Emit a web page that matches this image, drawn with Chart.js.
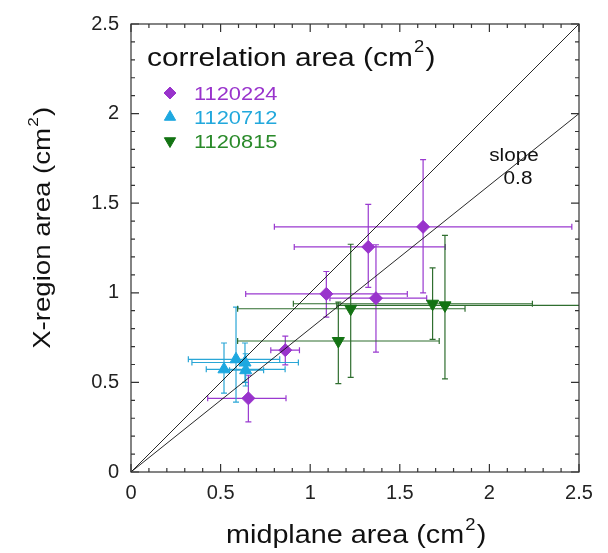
<!DOCTYPE html>
<html>
<head>
<meta charset="utf-8">
<script src="https://cdn.jsdelivr.net/npm/chart.js@4.4.1/dist/chart.umd.min.js"></script>
<style>
  body { margin: 0; background: #fff; }
  #wrap { width: 608px; height: 553px; }
</style>
</head>
<body>
<div id="wrap"><canvas id="corrChart" width="608" height="553"></canvas></div>
<script>
// series names
const seriesNames = ['1120224', '1120712', '1120815'];

// 1120224 (purple diamonds)
const shotAX = [1.63, 1.324, 1.09, 1.367, 0.861, 0.655];
const shotAY = [1.368, 1.256, 0.994, 0.970, 0.680, 0.411];
const shotAXLo = [0.80, 0.911, 0.64, 1.11, 0.78, 0.428];
const shotAXHi = [2.46, 1.754, 1.542, 1.65, 0.94, 0.865];
const shotAYLo = [1.00, 1.03, 0.864, 0.669, 0.598, 0.28];
const shotAYHi = [1.743, 1.494, 1.119, 1.268, 0.758, 0.54];

// 1120712 (cyan triangles)
const shotBX = [0.586, 0.636, 0.519, 0.64];
const shotBY = [0.629, 0.611, 0.573, 0.568];
const shotBXLo = [0.32, 0.34, 0.42, 0.55];
const shotBXHi = [0.83, 0.934, 0.86, 0.74];
const shotBYLo = [0.39, 0.50, 0.44, 0.48];
const shotBYHi = [0.92, 0.72, 0.72, 0.66];

// 1120815 (green down triangles)
const shotCX = [1.157, 1.226, 1.683, 1.752];
const shotCY = [0.731, 0.911, 0.939, 0.93];
const shotCXLo = [0.595, 0.595, 0.906, 1.148];
const shotCXHi = [1.72, 1.864, 2.24, 2.7];
const shotCYLo = [0.493, 0.528, 0.74, 0.52];
const shotCYHi = [0.948, 1.271, 1.139, 1.32];

// reference lines: y = x and y = 0.8 x
const lineX = [0, 2.5];
const slopes = [1, 0.8];

const axisMin = 0, axisMax = 2.5, majorStep = 0.5;

const colA = '#9933cc', colB = '#1ea8e0', colC = '#137313';
const barA = '#9a3ad0', barB = '#2aa6d6', barC = '#2f6e2f';

function pts(xs, ys, xlo, xhi, ylo, yhi) {
  return xs.map((x, i) => ({ x: x, y: ys[i], xMin: xlo[i], xMax: xhi[i], yMin: ylo[i], yMax: yhi[i] }));
}

const STRETCH = 1.15;
const FONT = '"Liberation Sans", Arial, Helvetica, sans-serif';

// draws text with a "2" superscript before the closing bracket
function supText(ctx, pre, sup, post, x, y, size, color, align) {
  ctx.save();
  ctx.fillStyle = color;
  ctx.textBaseline = 'alphabetic';
  ctx.textAlign = 'left';
  ctx.font = size + 'px ' + FONT;
  const w1 = ctx.measureText(pre).width;
  const w3 = ctx.measureText(post).width;
  ctx.font = Math.round(size * 0.62) + 'px ' + FONT;
  const w2 = ctx.measureText(sup).width;
  const total = (w1 + w2 + w3) * STRETCH;
  let sx = x;
  if (align === 'center') sx = x - total / 2;
  ctx.translate(sx, y);
  ctx.scale(STRETCH, 1);
  ctx.font = size + 'px ' + FONT;
  ctx.fillText(pre, 0, 0);
  ctx.font = Math.round(size * 0.62) + 'px ' + FONT;
  ctx.fillText(sup, w1 + 1, -size * 0.52);
  ctx.font = size + 'px ' + FONT;
  ctx.fillText(post, w1 + w2 + 2, 0);
  ctx.restore();
}

function plainText(ctx, txt, x, y, size, color, align) {
  ctx.save();
  ctx.fillStyle = color;
  ctx.font = size + 'px ' + FONT;
  ctx.textBaseline = 'alphabetic';
  ctx.textAlign = 'left';
  const w = ctx.measureText(txt).width * STRETCH;
  let sx = x;
  if (align === 'center') sx = x - w / 2;
  ctx.translate(sx, y);
  ctx.scale(STRETCH, 1);
  ctx.fillText(txt, 0, 0);
  ctx.restore();
}

const errorBars = {
  id: 'errorBars',
  beforeDatasetsDraw(chart) {
    const { ctx, scales: { x, y }, chartArea } = chart;
    ctx.save();
    ctx.beginPath();
    ctx.rect(chartArea.left, chartArea.top, chartArea.right - chartArea.left, chartArea.bottom - chartArea.top);
    ctx.clip();
    chart.data.datasets.forEach(ds => {
      if (!ds.barColor) return;
      ctx.strokeStyle = ds.barColor;
      ctx.lineWidth = 1.2;
      const cap = 3;
      ds.data.forEach(p => {
        const px = x.getPixelForValue(p.x), py = y.getPixelForValue(p.y);
        const x0 = x.getPixelForValue(p.xMin), x1 = x.getPixelForValue(p.xMax);
        const y0 = y.getPixelForValue(p.yMin), y1 = y.getPixelForValue(p.yMax);
        ctx.beginPath();
        ctx.moveTo(x0, py); ctx.lineTo(x1, py);
        ctx.moveTo(x0, py - cap); ctx.lineTo(x0, py + cap);
        ctx.moveTo(x1, py - cap); ctx.lineTo(x1, py + cap);
        ctx.moveTo(px, y0); ctx.lineTo(px, y1);
        ctx.moveTo(px - cap, y0); ctx.lineTo(px + cap, y0);
        ctx.moveTo(px - cap, y1); ctx.lineTo(px + cap, y1);
        ctx.stroke();
      });
    });
    ctx.restore();
  },
  afterDraw(chart) {
    const { ctx, scales: { x, y }, chartArea: a } = chart;
    ctx.save();
    // frame
    ctx.strokeStyle = '#333';
    ctx.lineWidth = 1.2;
    ctx.strokeRect(a.left, a.top, a.right - a.left, a.bottom - a.top);
    // inward ticks on all four sides
    ctx.beginPath();
    for (let i = 0; i <= 25; i++) {
      const v = i / 10;
      const len = (i % 5 === 0) ? 8 : 4;
      const px = x.getPixelForValue(v);
      const py = y.getPixelForValue(v);
      ctx.moveTo(px, a.bottom); ctx.lineTo(px, a.bottom - len);
      ctx.moveTo(px, a.top); ctx.lineTo(px, a.top + len);
      ctx.moveTo(a.left, py); ctx.lineTo(a.left + len, py);
      ctx.moveTo(a.right, py); ctx.lineTo(a.right - len, py);
    }
    ctx.stroke();
    ctx.restore();

    // legend
    supText(ctx, 'correlation area (cm', '2', ')', 147, 66, 26, '#111', 'left');
    const legendCols = [colA, colB, colC];
    const legendStyles = ['rectRot', 'triangle', 'triangle'];
    const legendRot = [0, 0, 180];
    const legendR = [6, 6.5, 6.5];
    const textCols = ['#9933cc', '#22a8dc', '#2a8a2a'];
    const ds = chart.data.datasets.filter(d => d.barColor);
    ds.forEach((d, i) => {
      const cy = 93 + i * 24;
      ctx.save();
      ctx.fillStyle = legendCols[i];
      ctx.strokeStyle = legendCols[i];
      Chart.helpers.drawPoint(ctx, { pointStyle: legendStyles[i], radius: legendR[i], rotation: legendRot[i], borderWidth: 1 }, 170, cy);
      ctx.restore();
      plainText(ctx, d.label, 194, cy + 7, 19, textCols[i], 'left');
    });

    // slope annotation
    plainText(ctx, 'slope', 514, 161, 18, '#111', 'center');
    plainText(ctx, '0.8', 518, 184, 18, '#111', 'center');

    // axis titles
    supText(ctx, 'midplane area (cm', '2', ')', 355, 543, 25, '#111', 'center');
    ctx.save();
    ctx.translate(50, 229);
    ctx.rotate(-Math.PI / 2);
    supText(ctx, 'X-region area (cm', '2', ')', 0, 0, 24, '#111', 'center');
    ctx.restore();
  }
};

const lineSets = slopes.map(s => ({
  type: 'line',
  label: 'slope ' + s,
  data: lineX.map(v => ({ x: v, y: s * v })),
  borderColor: '#111',
  borderWidth: 0.9,
  pointRadius: 0,
  fill: false,
  order: 0
}));

const tickFmt = v => String(Number(v.toFixed(1)));

const ctxScatter = document.getElementById('corrChart').getContext('2d');
const corrChart = new Chart(ctxScatter, {
  type: 'scatter',
  data: {
    datasets: [
      ...lineSets,
      {
        label: seriesNames[0],
        data: pts(shotAX, shotAY, shotAXLo, shotAXHi, shotAYLo, shotAYHi),
        pointStyle: 'rectRot',
        pointRadius: 6.5,
        backgroundColor: colA,
        borderColor: colA,
        barColor: barA,
        order: 1
      },
      {
        label: seriesNames[1],
        data: pts(shotBX, shotBY, shotBXLo, shotBXHi, shotBYLo, shotBYHi),
        pointStyle: 'triangle',
        pointRadius: 7,
        backgroundColor: colB,
        borderColor: colB,
        barColor: barB,
        order: 1
      },
      {
        label: seriesNames[2],
        data: pts(shotCX, shotCY, shotCXLo, shotCXHi, shotCYLo, shotCYHi),
        pointStyle: 'triangle',
        rotation: 180,
        pointRadius: 7,
        backgroundColor: colC,
        borderColor: colC,
        barColor: barC,
        order: 1
      }
    ]
  },
  options: {
    responsive: false,
    animation: false,
    layout: { padding: { top: 23, right: 29, left: 0, bottom: 0 } },
    plugins: {
      legend: { display: false },
      tooltip: { enabled: false }
    },
    scales: {
      x: {
        type: 'linear',
        min: axisMin,
        max: axisMax,
        grid: { display: false, drawTicks: false },
        border: { display: false },
        ticks: {
          stepSize: majorStep,
          padding: 9,
          color: '#222',
          font: { family: FONT, size: 20 },
          callback: tickFmt
        },
        afterFit(scale) { scale.height = 81; }
      },
      y: {
        type: 'linear',
        min: axisMin,
        max: axisMax,
        grid: { display: false, drawTicks: false },
        border: { display: false },
        ticks: {
          stepSize: majorStep,
          padding: 12,
          color: '#222',
          font: { family: FONT, size: 20 },
          callback: tickFmt
        },
        afterFit(scale) { scale.width = 131; }
      }
    }
  },
  plugins: [errorBars]
});
</script>
</body>
</html>
